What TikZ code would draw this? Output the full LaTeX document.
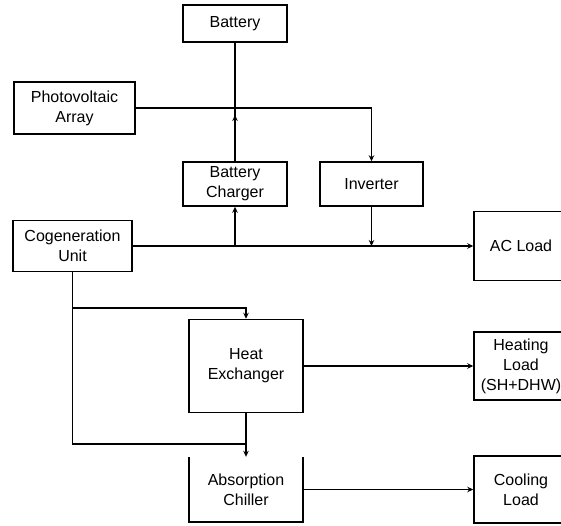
\documentclass[tikz,border=0pt]{standalone}
\usepackage{fontspec}
\setmainfont{Liberation Sans}
\usetikzlibrary{arrows.meta,calc}

\tikzset{
  blockbox/.style={draw, line width=1.5pt, align=center, inner sep=2pt,
                   font=\fontsize{16}{20}\selectfont},
  openbox/.style={align=center, inner sep=2pt, font=\fontsize{16}{20}\selectfont},
  wire/.style={line width=1.5pt},
  flow/.style={wire, -{Stealth[length=6pt,width=5.5pt]}}
}

\begin{document}
\begin{tikzpicture}[x=1pt,y=-1pt]
  \useasboundingbox (0,0) rectangle (561,525);
  \clip (0,0) rectangle (561,525);

  % electrical side
  \node[blockbox, minimum width=104pt, minimum height=37pt] (battery) at (235,23.5) {Battery};
  \node[blockbox, minimum width=121pt, minimum height=52pt] (pv) at (74.5,108) {Photovoltaic\\Array};
  \node[blockbox, minimum width=104pt, minimum height=44pt] (charger) at (235,184) {Battery\\Charger};
  \node[blockbox, minimum width=103pt, minimum height=44pt] (inverter) at (371.5,184) {Inverter};
  \node[blockbox, minimum width=119pt, minimum height=51pt] (cogen) at (72.5,246) {Cogeneration\\Unit};
  \node[blockbox, minimum width=94pt, minimum height=69pt] (acload) at (521,246) {AC Load};

  % thermal side
  \node[blockbox, minimum width=114pt, minimum height=93pt] (hx) at (246,366) {Heat\\Exchanger};
  \node[blockbox, minimum width=94pt, minimum height=68pt] (heating) at (521,366) {Heating\\Load\\(SH+DHW)};
  \node[openbox, minimum width=114pt, minimum height=65pt] (chiller) at (246,489.5) {Absorption\\Chiller};
  \draw[wire] (chiller.north west) |- (chiller.south east) -- (chiller.north east);
  \node[blockbox, minimum width=94pt, minimum height=67pt] (cooling) at (521,489.5) {Cooling\\Load};

  % junctions
  \coordinate (j1) at (battery.south |- pv.east);
  \coordinate (b1) at (72.5,308);
  \coordinate (c2) at (246,444);

  % DC bus
  \draw[wire] (battery.south) -- (j1);
  \draw[flow] (pv.east) -| (inverter.north);
  \draw[wire] (charger.north) -- (j1);
  \draw[flow] (charger.north) -- ($(j1)+(0,7)$);

  % AC bus
  \draw[flow] (cogen.east) -- (acload.west);
  \draw[flow] (charger.south |- cogen.east) -- (charger.south);
  \draw[flow] (inverter.south) -- (inverter.south |- cogen.east);

  % heat recovery
  \draw[wire] (cogen.south) |- (c2);
  \draw[flow] (b1) -| (hx.north);
  \draw[wire] (hx.south) -- (c2);
  \draw[flow] (c2) -- (chiller.north);
  \draw[flow] (hx.east) -- (heating.west);
  \draw[flow] (chiller.east) -- (cooling.west);
\end{tikzpicture}
\end{document}
